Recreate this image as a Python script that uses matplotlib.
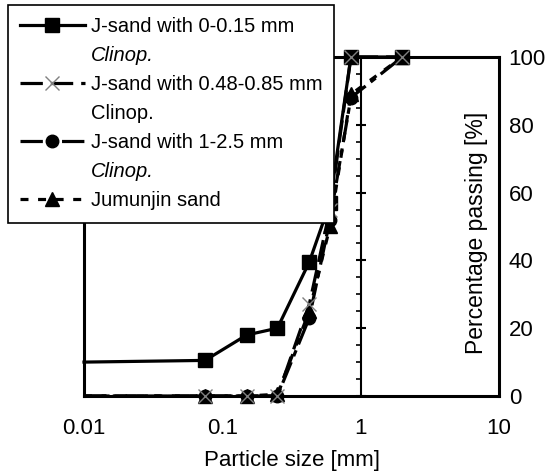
import matplotlib
matplotlib.use('Agg')
import matplotlib.pyplot as plt
from matplotlib.lines import Line2D
from matplotlib.ticker import MultipleLocator, NullLocator

plt.rcParams['font.family'] = ['Liberation Sans', 'DejaVu Sans']

# sieve sizes [mm]
sizes = [0.01, 0.075, 0.15, 0.25, 0.425, 0.6, 0.85, 2.0]
# percentage passing [%]
fine_clinop = [10, 10.5, 18, 20, 39.5, 57, 100, 100]
mid_clinop = [0, 0, 0, 0, 27, 55, 100, 100]
coarse_clinop = [0, 0, 0, 0, 23, 52, 88, 100]
jumunjin = [0, 0, 0, 0.5, 25, 50, 89, 100]

labels = ['J-sand with 0-0.15 mm', 'Clinop.', 'J-sand with 0.48-0.85 mm', 'Clinop.',
          'J-sand with 1-2.5 mm', 'Clinop.', 'Jumunjin sand']
xticks = [0.01, 0.1, 1, 10]
xticklabels = ['0.01', '0.1', '1', '10']
yticks = [0, 20, 40, 60, 80, 100]

fig = plt.figure(figsize=(5.48, 4.73), dpi=100)
ax = fig.add_axes([84 / 548, 1 - 396 / 473, 415 / 548, 339 / 473])

every = slice(1, None)
lw = 2.3
l1, = ax.plot(sizes, fine_clinop, color='k', lw=lw, marker='s', ms=10,
              markevery=every, clip_on=False, zorder=3)
l3, = ax.plot(sizes, coarse_clinop, color='k', lw=lw, dashes=(7, 2, 2, 2),
              marker='o', ms=9, markevery=every, clip_on=False, zorder=3)
l4, = ax.plot(sizes, jumunjin, color='k', lw=lw, dashes=(2.5, 3),
              marker='^', ms=10, markevery=every, clip_on=False, zorder=3)
l2, = ax.plot(sizes, mid_clinop, color='k', lw=lw, dashes=(7, 2.5),
              marker='x', ms=10, mew=1, mec='0.5', markevery=every,
              clip_on=False, zorder=4)

ax.set_xscale('log')
ax.set_xlim(0.01, 10)
ax.set_ylim(0, 100)

# y axis drawn through x = 1, labels on the right
ax.spines['left'].set_position(('data', 1))
ax.spines['left'].set_linewidth(1.5)
for s in ('right', 'top', 'bottom'):
    ax.spines[s].set_linewidth(2.2)
ax.axvline(0.01, color='k', lw=2.2, clip_on=False)

ax.set_yticks(yticks)
ax.yaxis.set_minor_locator(MultipleLocator(5))
ax.tick_params(axis='y', which='major', left=True, right=False, labelleft=False,
               labelright=True, direction='inout', length=7, width=1.5, pad=3.5,
               labelsize=16)
ax.tick_params(axis='y', which='minor', left=True, right=False,
               direction='out', length=3.5, width=1.2)

ax.set_xticks(xticks, xticklabels)
ax.xaxis.set_minor_locator(NullLocator())
ax.tick_params(axis='x', length=0, pad=16, labelsize=16)
ax.set_xlabel('Particle size [mm]', fontsize=16, labelpad=8)

ax.text(0.945, 0.48, 'Percentage passing [%]', transform=ax.transAxes,
        rotation=90, ha='center', va='center', fontsize=16.5)

blank = Line2D([], [], linestyle='none')
handles = [l1, blank, l2, blank, l3, blank, l4]
leg = fig.legend(handles, labels, loc='upper left',
                 bbox_to_anchor=(8 / 548, 1 - 5 / 473), fancybox=False,
                 edgecolor='k', framealpha=1, fontsize=14.5, handlelength=3.2,
                 handletextpad=0.3, labelspacing=0.5, borderpad=0.6,
                 borderaxespad=0)
leg.get_frame().set_linewidth(1.2)
for i in (1, 5):
    leg.get_texts()[i].set_fontstyle('italic')

fig.savefig('out.png', dpi=100)
